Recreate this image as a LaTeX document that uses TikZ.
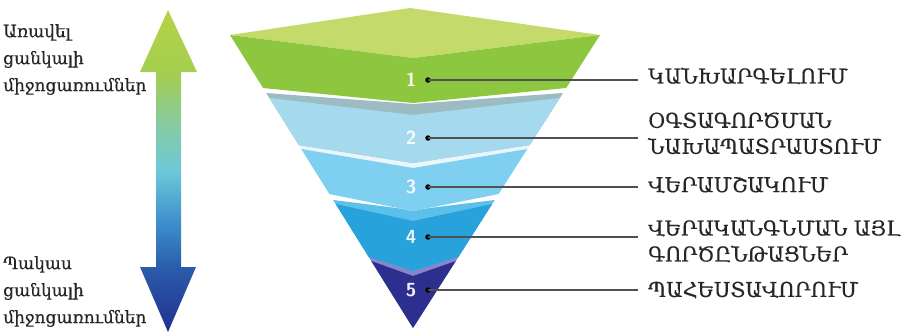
\documentclass[tikz,border=0pt]{standalone}
\usepackage{fontspec}
\newfontfamily\armfont[FakeBold=0.4]{DejaVu Serif}
\usetikzlibrary{calc}
\definecolor{gTop}{HTML}{C4DA6A}
\definecolor{gFront}{HTML}{8DC63F}
\definecolor{ltwoTop}{HTML}{9CBBC2}
\definecolor{ltwo}{HTML}{A5DAEE}
\definecolor{lthreeTop}{HTML}{EAF6FB}
\definecolor{lthree}{HTML}{7FCFF0}
\definecolor{lfourTop}{HTML}{5CC0EA}
\definecolor{lfour}{HTML}{27A2DA}
\definecolor{lfiveTop}{HTML}{8A84CC}
\definecolor{lfive}{HTML}{2D2F8E}
\definecolor{arA}{HTML}{B5D345}
\definecolor{arB}{HTML}{A3CE50}
\definecolor{arC}{HTML}{8ACB9A}
\definecolor{arD}{HTML}{6CC9D9}
\definecolor{arE}{HTML}{3D8FCB}
\definecolor{arF}{HTML}{2A5CAB}
\definecolor{arG}{HTML}{23308F}
\definecolor{txt}{HTML}{262626}
\definecolor{conn}{HTML}{505050}
\pgfdeclareverticalshading{arrshade}{100bp}{color(0bp)=(arG); color(25bp)=(arG); color(35bp)=(arF); color(42bp)=(arE); color(50bp)=(arD); color(58bp)=(arC); color(65bp)=(arB); color(75bp)=(arA); color(100bp)=(arA)}
\begin{document}
\begin{tikzpicture}[x=1pt,y=-1pt,
  numlbl/.style={text=white, opacity=0.92, font=\sffamily\bfseries\fontsize{19}{19}\selectfont, inner sep=0pt},
  dotnode/.style={circle, fill=black, inner sep=0pt, minimum size=5.5pt},
  rightlbl/.style={anchor=west, align=left, text=txt, inner sep=0pt, font=\armfont\fontsize{20.5}{26}\selectfont},
  leftlbl/.style={anchor=north west, align=left, text=txt, inner sep=0pt, font=\armfont\fontsize{17}{27}\selectfont},
  connector/.style={draw=conn, line width=1.6pt}
]
\useasboundingbox (0,0) rectangle (913,333);

% double arrow
\shade[shading=arrshade]
  (168,10) -- (197,72) -- (181,72) -- (181,267) -- (196,267) -- (168,332)
  -- (140,267) -- (156,267) -- (156,72) -- (140,72) -- cycle;

% layer 5
\fill[lfiveTop] (368.75,257) -- (413,264) -- (458.4,257) -- (413,328) -- cycle;
\fill[lfive] (371.25,261) -- (413,276) -- (455.8,261) -- (413,328) -- cycle;
% layer 4
\fill[lfourTop] (333.1,200) -- (413,210) -- (494.7,200) -- (458.4,257) -- (413,271) -- (368.75,257) -- cycle;
\fill[lfour] (335.6,204) -- (413,221) -- (492.2,204) -- (458.4,257) -- (413,271) -- (368.75,257) -- cycle;
% layer 3
\fill[lthreeTop] (298.1,144) -- (413,156) -- (530.5,144) -- (498.6,194) -- (413,211) -- (329.4,194) -- cycle;
\fill[lthree] (301.25,149) -- (413,168) -- (527.3,149) -- (498.6,194) -- (413,211) -- (329.4,194) -- cycle;
% layer 2
\fill[ltwoTop] (266.25,93) -- (413,104) -- (563,93) -- (529.8,145) -- (413,163) -- (298.75,145) -- cycle;
\fill[ltwo] (269.4,98) -- (413,115) -- (559.8,98) -- (529.8,145) -- (413,163) -- (298.75,145) -- cycle;
% layer 1
\fill[gTop] (230,35) -- (410,8) -- (600,35) -- (413,58) -- cycle;
\fill[gFront] (230,35) -- (413,58) -- (600,35) -- (566.2,88) -- (413,103) -- (263.1,88) -- cycle;

% numbers and dots
\node[numlbl] (n1) at (411,80) {1};
\node[numlbl] (n2) at (411,138) {2};
\node[numlbl] (n3) at (411,187) {3};
\node[numlbl] (n4) at (411,237) {4};
\node[numlbl] (n5) at (411,290) {5};
\node[dotnode] (d1) at (428,80) {};
\node[dotnode] (d2) at (428,138) {};
\node[dotnode] (d3) at (428,187) {};
\node[dotnode] (d4) at (428,237) {};
\node[dotnode] (d5) at (428,290) {};
\coordinate (e1) at (638,80);
\coordinate (e2) at (638,138);
\coordinate (e3) at (638,187);
\coordinate (e4) at (638,237);
\coordinate (e5) at (638,290);
\draw[connector] (d1.center) -- (e1);
\draw[connector] (d2.center) -- (e2);
\draw[connector] (d3.center) -- (e3);
\draw[connector] (d4.center) -- (e4);
\draw[connector] (d5.center) -- (e5);

% right labels
\node[rightlbl] (l1) at (648,76) {ԿԱՆԽԱՐԳԵԼՈՒՄ};
\node[rightlbl] (l2) at (648,133) {ՕԳՏԱԳՈՐԾՄԱՆ\\ՆԱԽԱՊԱՏՐԱՍՏՈՒՄ};
\node[rightlbl] (l3) at (648,185) {ՎԵՐԱՄՇԱԿՈՒՄ};
\node[rightlbl] (l4) at (648,241) {ՎԵՐԱԿԱՆԳՆՄԱՆ ԱՅԼ\\ԳՈՐԾԸՆԹԱՑՆԵՐ};
\node[rightlbl] (l5) at (648,290) {ՊԱՀԵՍՏԱՎՈՐՈՒՄ};

% left labels
\node[leftlbl] (t1) at (3,24) {Առավել\\ցանկալի\\միջոցառումներ};
\node[leftlbl] (t2) at (3,256) {Պակաս\\ցանկալի\\միջոցառումներ};
\end{tikzpicture}
\end{document}
